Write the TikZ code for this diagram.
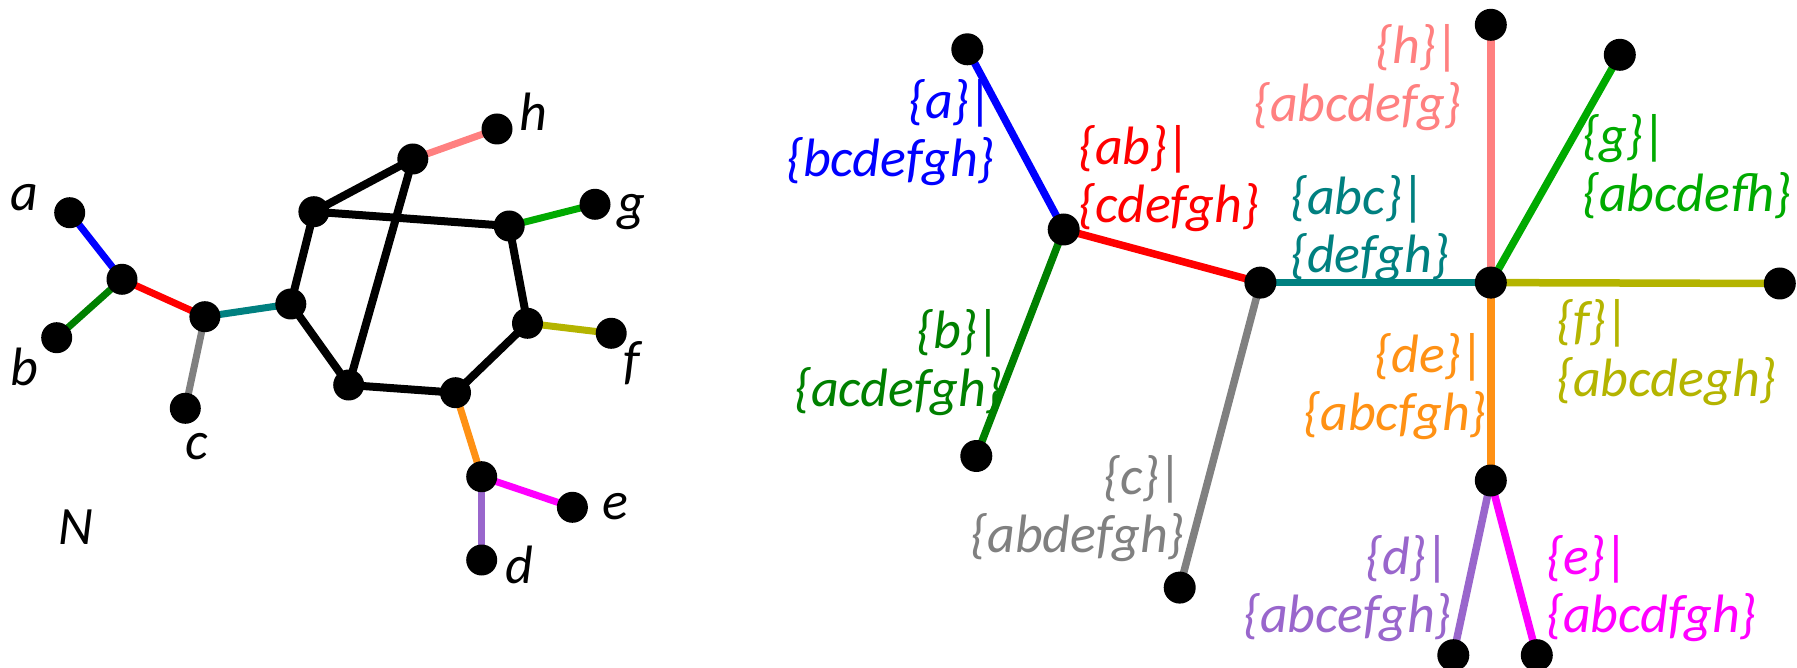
\documentclass[tikz,border=0pt]{standalone}
\usepackage{fontspec}
\setmainfont{Carlito}
\usetikzlibrary{backgrounds}
\definecolor{cA}{RGB}{0,0,255}
\definecolor{cB}{RGB}{0,128,0}
\definecolor{cC}{RGB}{128,128,128}
\definecolor{cAB}{RGB}{255,0,0}
\definecolor{cABC}{RGB}{0,128,128}
\definecolor{cH}{RGB}{255,128,128}
\definecolor{cG}{RGB}{0,170,0}
\definecolor{cF}{RGB}{180,180,0}
\definecolor{cDE}{RGB}{255,145,20}
\definecolor{cE}{RGB}{255,0,255}
\definecolor{cD}{RGB}{153,102,204}
\tikzset{
  dot/.style={circle,fill=black,inner sep=0pt,minimum size=31pt},
  bigdot/.style={circle,fill=black,inner sep=0pt,minimum size=32pt},
  edge/.style={line width=7pt},
  redge/.style={line width=7.5pt},
  bedge/.style={line width=8pt,black},
  lab/.style={inner sep=0pt,font=\fontsize{54}{58}\selectfont\itshape},
  split/.style={lab,align=#1},
}
\begin{document}
\begin{tikzpicture}[x=1pt,y=-1pt]
\useasboundingbox (0,0) rectangle (1797,668);
% ---------- left network N ----------
\node[dot] (la) at (69.7,212.7) {};
\node[dot] (lb) at (56.7,337.7) {};
\node[dot] (lab) at (122,279.3) {};
\node[dot] (lcj) at (204.9,316.7) {};
\node[dot] (lc) at (185.3,408.3) {};
\node[dot] (l1) at (290.8,304) {};
\node[dot] (l2) at (313.9,211.7) {};
\node[dot] (l3) at (412.8,159) {};
\node[dot] (lh) at (497,129) {};
\node[dot] (l4) at (509.2,226) {};
\node[dot] (lg) at (595,204.3) {};
\node[dot] (l5) at (527.5,323.3) {};
\node[dot] (lf) at (611.2,333.3) {};
\node[dot] (l6) at (455.5,392.7) {};
\node[dot] (l7) at (348.7,385) {};
\node[dot] (lde) at (481.7,476.7) {};
\node[dot] (le) at (572.4,507.3) {};
\node[dot] (ld) at (481.7,560) {};
\node[lab] (ta) at (24,198) {a};
\node[lab] (tb) at (24,367) {b};
\node[lab] (tc) at (197,447) {c};
\node[lab] (th) at (533,112) {h};
\node[lab] (tg) at (631,212) {g};
\node[lab] (tf) at (632,363) {f};
\node[lab] (te) at (615,507) {e};
\node[lab] (td) at (519,565) {d};
\node[lab] (tN) at (76,527) {N};
% ---------- right tree ----------
\node[bigdot] (ra) at (967.3,49.3) {};
\node[bigdot] (rab) at (1063.7,229.5) {};
\node[bigdot] (rb) at (976.3,456) {};
\node[bigdot] (rabc) at (1260.4,282.6) {};
\node[bigdot] (rc) at (1179.7,587.6) {};
\node[bigdot] (rh) at (1490.8,24.8) {};
\node[bigdot] (rg) at (1619.8,54.8) {};
\node[bigdot] (rm) at (1490.8,282.6) {};
\node[bigdot] (rf) at (1779.8,283.5) {};
\node[bigdot] (rde) at (1490.8,480.5) {};
\node[bigdot] (rd) at (1453.3,655.2) {};
\node[bigdot] (re) at (1536.8,655.2) {};
\node[split=right,anchor=east,text=cA] (sa) at (995,133) {\{a\}|\\\{bcdefgh\}};
\node[split=left,anchor=west,text=cAB] (sab) at (1078,179) {\{ab\}|\\\{cdefgh\}};
\node[split=right,anchor=east,text=cB] (sb) at (1003,363) {\{b\}|\\\{acdefgh\}};
\node[split=right,anchor=east,text=cC] (sc) at (1185,508.5) {\{c\}|\\\{abdefgh\}};
\node[split=right,anchor=east,text=cH] (sh) at (1462,78) {\{h\}|\\\{abcdefg\}};
\node[split=left,anchor=west,text=cG] (sg) at (1582,167) {\{g\}|\\\{abcdefh\}};
\node[split=left,anchor=west,text=cABC] (sabc) at (1290,229) {\{abc\}|\\\{defgh\}};
\node[split=left,anchor=west,text=cF] (sf) at (1556,353) {\{f\}|\\\{abcdegh\}};
\node[split=right,anchor=east,text=cDE] (sde) at (1487,386.5) {\{de\}|\\\{abcfgh\}};
\node[split=right,anchor=east,text=cD] (sd) at (1452,589) {\{d\}|\\\{abcefgh\}};
\node[split=left,anchor=west,text=cE] (se) at (1546,589) {\{e\}|\\\{abcdfgh\}};
\begin{scope}[on background layer]
  % left
  \draw[bedge] (l1.center) -- (l2.center) -- (l3.center) -- (l7.center) -- (l1.center);
  \draw[bedge] (l2.center) -- (l4.center) -- (l5.center) -- (l6.center) -- (l7.center);
  \draw[edge,cA] (la.center) -- (lab.center);
  \draw[edge,cB] (lb.center) -- (lab.center);
  \draw[edge,cAB] (lab.center) -- (lcj.center);
  \draw[edge,cC] (lcj.center) -- (lc.center);
  \draw[edge,cABC] (lcj.center) -- (l1.center);
  \draw[edge,cH] (l3.center) -- (lh.center);
  \draw[edge,cG] (l4.center) -- (lg.center);
  \draw[edge,cF] (l5.center) -- (lf.center);
  \draw[edge,cDE] (l6.center) -- (lde.center);
  \draw[edge,cE] (lde.center) -- (le.center);
  \draw[edge,cD] (lde.center) -- (ld.center);
  % right
  \draw[redge,cA] (ra.center) -- (rab.center);
  \draw[redge,cB] (rb.center) -- (rab.center);
  \draw[redge,cAB] (rab.center) -- (rabc.center);
  \draw[redge,cC] (rabc.center) -- (rc.center);
  \draw[redge,cABC] (rabc.center) -- (rm.center);
  \draw[redge,cH] (rm.center) -- (rh.center);
  \draw[redge,cG] (rm.center) -- (rg.center);
  \draw[redge,cF] (rm.center) -- (rf.center);
  \draw[redge,cDE] (rm.center) -- (rde.center);
  \draw[redge,cD] (rde.center) -- (rd.center);
  \draw[redge,cE] (rde.center) -- (re.center);
\end{scope}
\end{tikzpicture}
\end{document}
